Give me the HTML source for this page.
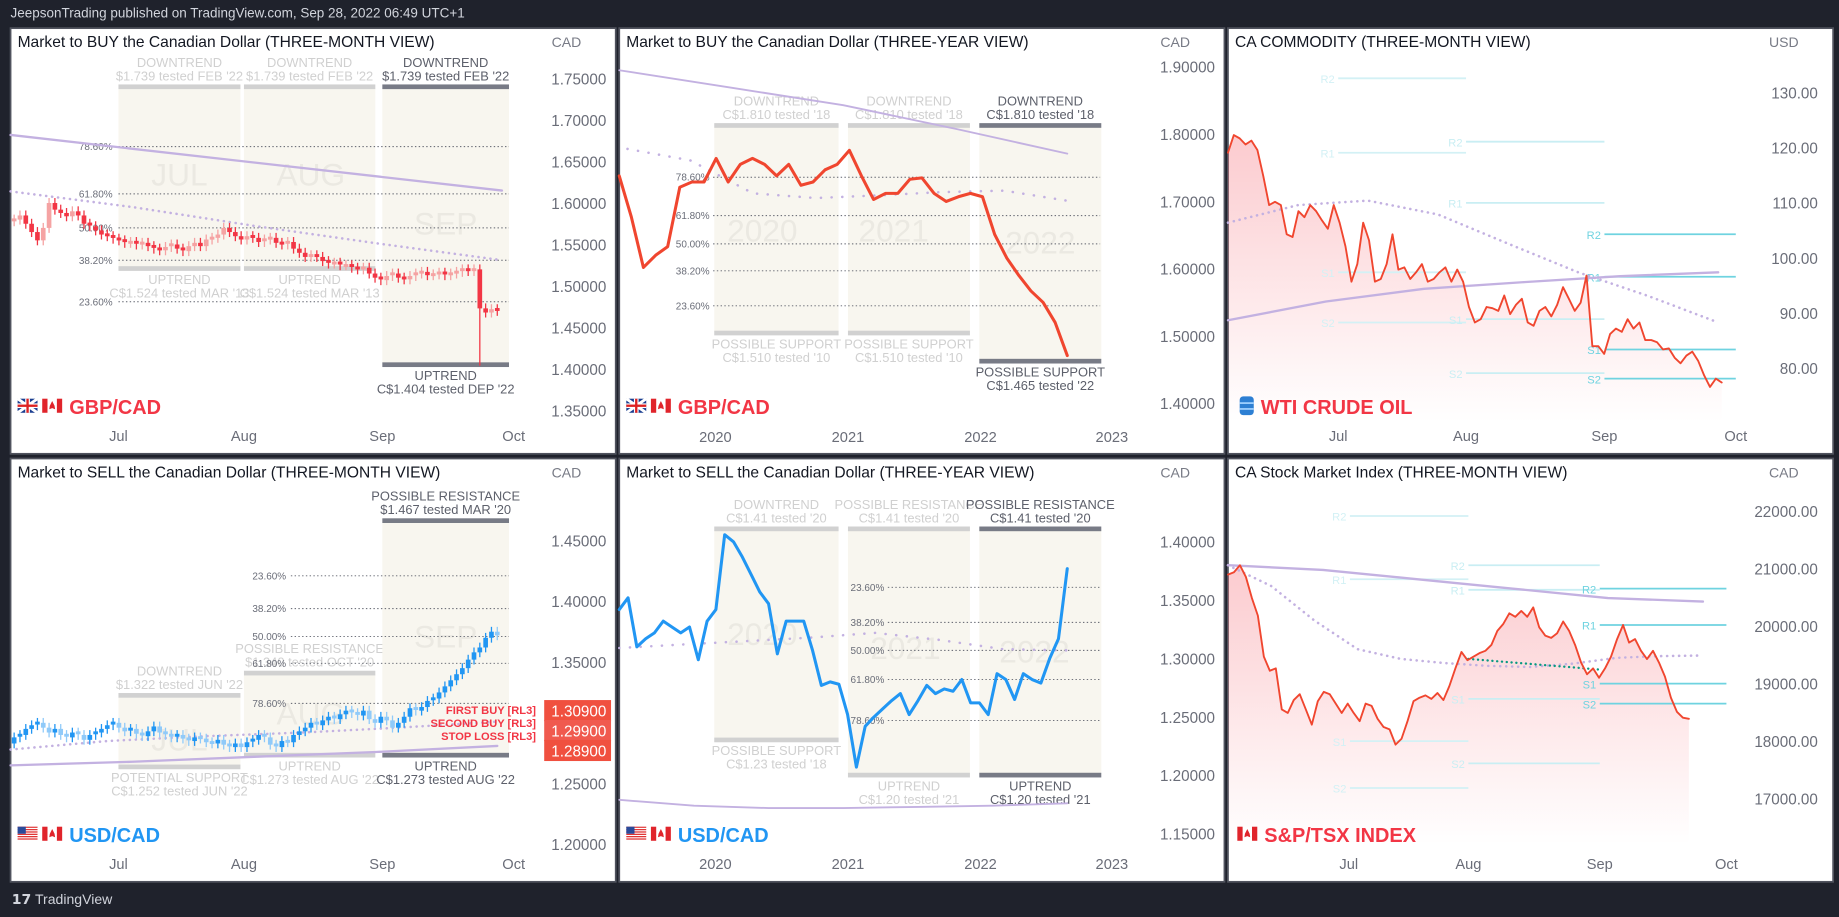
<!DOCTYPE html>
<html><head><meta charset="utf-8"><style>
html,body{margin:0;padding:0;background:#1f222c;width:1839px;height:917px;overflow:hidden}
svg{display:block}
text{font-family:"Liberation Sans",sans-serif}
</style></head><body>
<svg id="s" xmlns="http://www.w3.org/2000/svg" viewBox="0 0 1568 782" width="1839" height="917" preserveAspectRatio="none">
<defs>
<linearGradient id="g3" x1="0" y1="0" x2="0" y2="1"><stop offset="0" stop-color="#f23645" stop-opacity="0.26"/><stop offset="1" stop-color="#f23645" stop-opacity="0"/></linearGradient>
</defs>
<rect x="0" y="0" width="1568" height="782" fill="#1f222c"/>
<text x="9" y="15" font-size="11.5" fill="#d1d4dc">JeepsonTrading published on TradingView.com, Sep 28, 2022 06:49 UTC+1</text>
<text x="10" y="771" font-size="12" fill="#d1d4dc"><tspan font-weight="bold">𝟭𝟳</tspan> TradingView</text>
<g id="root"></g>
</svg>
<script>
// ---------- DATA ----------
const p1Closes=[1.578,1.580,1.585,1.575,1.565,1.555,1.570,1.600,1.592,1.588,1.584,1.590,1.585,1.575,1.572,1.567,1.562,1.560,1.557,1.555,1.552,1.553,1.550,1.552,1.548,1.545,1.543,1.547,1.550,1.545,1.542,1.548,1.552,1.548,1.556,1.558,1.562,1.570,1.565,1.560,1.556,1.560,1.558,1.553,1.556,1.558,1.552,1.550,1.553,1.545,1.540,1.535,1.537,1.535,1.530,1.527,1.528,1.525,1.525,1.522,1.520,1.522,1.515,1.510,1.507,1.512,1.515,1.510,1.508,1.512,1.515,1.517,1.513,1.514,1.516,1.513,1.515,1.517,1.520,1.518,1.520,1.473,1.468,1.472,1.470];
const p1SpikeLows={81:1.404};
const p1Ticks=["1.75000","1.70000","1.65000","1.60000","1.55000","1.50000","1.45000","1.40000","1.35000"];
const p1TickVals=[1.75,1.70,1.65,1.60,1.55,1.50,1.45,1.40,1.35];
const p1Fibs=[1.668,1.611,1.570,1.531,1.481];
const fibLabels=["78.60%","61.80%","50.00%","38.20%","23.60%"];
const p1MaSolid=[1.682,1.615];
const p1MaDot=[1.614,1.595,1.572,1.551,1.531];

const p2Values=[1.738,1.677,1.602,1.620,1.633,1.721,1.729,1.729,1.764,1.729,1.755,1.764,1.755,1.738,1.755,1.724,1.729,1.747,1.755,1.776,1.738,1.703,1.712,1.712,1.733,1.735,1.712,1.700,1.707,1.712,1.707,1.651,1.616,1.590,1.567,1.550,1.520,1.471];
const p2Ticks=["1.90000","1.80000","1.70000","1.60000","1.50000","1.40000"];
const p2TickVals=[1.9,1.8,1.7,1.6,1.5,1.4];
const p2Fibs=[1.736,1.679,1.637,1.597,1.545];
const p2MaSolid=[1.895,1.869,1.843,1.808,1.771];
const p2MaDot=[1.778,1.761,1.712,1.705,1.709,1.714,1.716,1.701];

const p3Values=[119.1,122.3,121.7,120.6,121.3,119.6,114.9,109.6,110.2,109.6,104.3,103.8,108.5,107.4,109.6,108.5,106.8,105.3,109.6,106.4,102.1,95.7,98.9,106.4,103.2,95.7,96.2,98.9,104.3,97.9,98.3,96.2,97.4,98.9,95.7,96.2,97.4,98.3,95.7,97.9,95.7,91.1,88.3,88.9,91.1,90.9,90.4,93.2,89.8,91.5,92.6,88.3,87.7,90.4,91.1,89.4,91.5,94.7,92.6,90.4,91.9,96.8,84.0,84.0,82.6,86.2,87.2,86.6,88.9,87.2,88.3,85.1,85.1,84.7,83.4,83.6,81.9,80.9,82.3,83.0,81.3,78.7,76.6,78.1,77.4];
const p3Ticks=["130.00","120.00","110.00","100.00","90.00","80.00"];
const p3TickVals=[130,120,110,100,90,80];
const pivotNames=["R2","R1","S1","S2"];
const p3PivJul=[132.6,119.1,97.4,88.3];
const p3PivAug=[121.1,110.0,88.9,79.1];
const p3PivSep=[104.3,96.6,83.4,78.1];
const p3MaSolid=[88.7,92.1,94.4,95.6,96.7,97.4];
const p3MaDot=[106.4,109.6,110.4,107.9,102.6,97.4,93.1,88.3];

const p4Closes=[1.283,1.288,1.290,1.295,1.298,1.300,1.296,1.292,1.295,1.290,1.288,1.292,1.290,1.286,1.290,1.292,1.295,1.298,1.300,1.296,1.293,1.295,1.291,1.289,1.293,1.297,1.292,1.290,1.288,1.290,1.287,1.285,1.288,1.287,1.284,1.283,1.286,1.282,1.280,1.283,1.280,1.284,1.286,1.290,1.288,1.282,1.280,1.285,1.284,1.290,1.293,1.296,1.300,1.298,1.302,1.305,1.303,1.307,1.310,1.308,1.306,1.310,1.303,1.300,1.305,1.302,1.296,1.300,1.305,1.312,1.310,1.313,1.318,1.320,1.325,1.330,1.335,1.340,1.345,1.352,1.358,1.362,1.370,1.375,1.372];
const p4Ticks=["1.45000","1.40000","1.35000","1.25000","1.20000"];
const p4TickVals=[1.45,1.40,1.35,1.25,1.20];
const p4Fibs=[1.316,1.349,1.371,1.394,1.421];
const p4FibLabels=["78.60%","61.80%","50.00%","38.20%","23.60%"];
const p4Orders=[1.309,1.299,1.289];
const p4OrderLabels=["FIRST BUY [RL3]","SECOND BUY [RL3]","STOP LOSS [RL3]"];
const p4MaSolid=[1.265,1.268,1.272,1.276,1.281];
const p4MaDot=[1.278,1.285,1.289,1.292,1.296,1.301];

const p5Values=[1.342,1.352,1.310,1.317,1.322,1.332,1.327,1.322,1.327,1.299,1.332,1.342,1.406,1.400,1.387,1.372,1.357,1.347,1.304,1.332,1.332,1.332,1.307,1.277,1.280,1.278,1.252,1.207,1.242,1.250,1.257,1.264,1.270,1.252,1.264,1.277,1.270,1.274,1.272,1.282,1.262,1.262,1.252,1.287,1.282,1.265,1.287,1.282,1.279,1.300,1.317,1.377];
const p5Ticks=["1.40000","1.35000","1.30000","1.25000","1.20000","1.15000"];
const p5TickVals=[1.40,1.35,1.30,1.25,1.20,1.15];
const p5Fibs=[1.361,1.331,1.307,1.282,1.247];
const p5FibLabels=["23.60%","38.20%","50.00%","61.80%","78.60%"];
const p5MaSolid=[1.179,1.174,1.172,1.172,1.173,1.174,1.176];
const p5MaDot=[1.309,1.312,1.315,1.318,1.322,1.316,1.308,1.307];

const p6Values=[20898,20939,21061,20857,20490,20184,19469,19224,19265,18551,18490,18714,18816,18551,18286,18694,18857,18816,18653,18490,18653,18490,18347,18653,18612,18388,18245,18204,17939,18041,18347,18694,18755,18796,18735,18837,18714,18959,19265,19551,19408,19469,19531,19571,19673,19918,20041,20224,20163,20265,20163,20327,19980,19837,19796,19878,20082,19918,19673,19367,19163,19265,19102,19265,19469,19776,20020,19714,19776,19571,19429,19571,19367,19122,18755,18510,18408,18388];
const p6Ticks=["22000.00","21000.00","20000.00","19000.00","18000.00","17000.00"];
const p6TickVals=[22000,21000,20000,19000,18000,17000];
const p6PivJul=[21918,20816,18000,17184];
const p6PivAug=[21061,20633,18735,17612];
const p6PivSep=[20653,20020,19000,18653];
const p6MaSolid=[21061,20980,20816,20653,20490,20429];
const p6MaDot=[21061,20700,20100,19600,19430,19360,19310,19290,19350,19450,19480,19490];
const p6Trend=[19430,19245];

const monthLabels=["Jul","Aug","Sep","Oct"];
const yearLabels=["2020","2021","2022","2023"];

// ---------- HELPERS ----------
const NS="http://www.w3.org/2000/svg";
const root=document.getElementById('root');
function mk(tag,attrs,parent,txt){const e=document.createElementNS(NS,tag);for(const k in attrs)e.setAttribute(k,attrs[k]);if(txt!==undefined)e.textContent=txt;(parent||root).appendChild(e);return e;}
function lin(v0,p0,v1,p1){return v=>p0+(v-v0)*(p1-p0)/(v1-v0);}
function pts(vals,x0,x1,y){const n=vals.length;return vals.map((v,i)=>[x0+i*(x1-x0)/(n-1),y(v)]);}
function poly(g,vals,x0,x1,y,stroke,w,dash,name){
  const d=pts(vals,x0,x1,y).map(p=>p[0].toFixed(1)+','+p[1].toFixed(1)).join(' ');
  const a={points:d,fill:'none',stroke:stroke,'stroke-width':w,'stroke-linejoin':'round','stroke-linecap':'round'};
  if(dash)a['stroke-dasharray']=dash;
  const e=mk('polyline',a,g);
  
  
  return e;
}
function frame(x,y,w,h,title,unit,name){
  const g=mk('g',{},root);
  
  
  const r=mk('rect',{x:x,y:y,width:w,height:h,fill:'#ffffff',stroke:'#50535e','stroke-width':1.5},g);
  
  
  const t=mk('text',{x:x+6,y:y+16,'font-size':13.3,fill:'#131722'},g,title);
  
  
  const u=mk('text',{x:x+w-42,y:y+16,'font-size':12,fill:'#787b86','text-anchor':'middle'},g,unit);
  
  
  return g;
}
function yTicks(g,labels,vals,y,xr){
  labels.forEach((l,i)=>{
    const t=mk('text',{x:xr,y:y(vals[i])+5,'font-size':13,fill:'#6a6d78','text-anchor':'end'},g,l);
    
    
  });
}
function xTicks(g,labels,xs,yy){
  labels.forEach((l,i)=>{
    const t=mk('text',{x:xs[i],y:yy,'font-size':12.5,fill:'#6a6d78','text-anchor':'middle'},g,l);
    
    
  });
}
function zone(g,x0,x1,yt,yb,dark,topLines,botLines,big,bigX,bigY){
  const c=dark?'#787b86':'#d1d1d1', tc=dark?'#5d606b':'#d0d0d0';
  const z=mk('rect',{x:x0,y:yt,width:x1-x0,height:yb-yt,fill:'#f8f6ef'},g);
  
  
  const b1=mk('rect',{x:x0,y:yt-3,width:x1-x0,height:4,fill:c},g);
  
  
  const b2=mk('rect',{x:x0,y:yb-1,width:x1-x0,height:4,fill:c},g);
  
  
  const cx=(x0+x1)/2;
  topLines.forEach((l,i)=>{const t=mk('text',{x:cx,y:yt-18+i*11.5,'font-size':11,fill:tc,'text-anchor':'middle'},g,l);
    
    });
  botLines.forEach((l,i)=>{const t=mk('text',{x:cx,y:yb+14+i*11.5,'font-size':11,fill:tc,'text-anchor':'middle'},g,l);
    
    });
  if(big){const t=mk('text',{x:bigX,y:bigY,'font-size':27,fill:'#ebe9e2','text-anchor':'middle'},g,big);
    
    }
}
function fibs(g,levels,labels,y,x0,x1,lx){
  levels.forEach((v,i)=>{
    const l=mk('line',{x1:x0,x2:x1,y1:y(v),y2:y(v),stroke:'#5d606b','stroke-width':0.8,'stroke-dasharray':'1.2,2'},g);
    
    
    const t=mk('text',{x:lx,y:y(v)+3,'font-size':8.5,fill:'#6a6d78','text-anchor':'end'},g,labels[i]);
    
    
  });
}
function pivots(g,levels,y,x0,x1,color){
  levels.forEach((v,i)=>{
    const l=mk('line',{x1:x0,x2:x1,y1:y(v),y2:y(v),stroke:color,'stroke-width':1.5},g);
    
    
    const t=mk('text',{x:x0-3,y:y(v)+4,'font-size':9.5,fill:color,'text-anchor':'end'},g,pivotNames[i]);
    
    
  });
}
function candles(g,closes,x0,x1,y,upC,dnC,spikes,wick){
  const n=closes.length, st=(x1-x0)/(n-1), bw=st*0.8;
  for(let i=1;i<n;i++){
    const o=closes[i-1], c=closes[i], up=c>=o;
    const hi=Math.max(o,c)+wick, lo=(spikes&&spikes[i]!==undefined)?spikes[i]:Math.min(o,c)-wick;
    const x=x0+i*st, col=up?upC:dnC;
    const w=mk('line',{x1:x,x2:x,y1:y(hi),y2:y(lo),stroke:col,'stroke-width':1.1},g);
    
    
    const top=y(Math.max(o,c)), h=Math.max(2.5,Math.abs(y(o)-y(c)));
    const b=mk('rect',{x:x-bw/2,y:top-(h>Math.abs(y(o)-y(c))?1:0),width:bw,height:h,fill:col},g);
    
    
  }
}
function area(g,vals,x0,x1,y,yb){
  const p=pts(vals,x0,x1,y);
  const d='M'+p.map(q=>q[0].toFixed(1)+','+q[1].toFixed(1)).join('L')+'L'+x1+','+yb+'L'+x0+','+yb+'Z';
  const e=mk('path',{d:d,fill:'url(#g3)'},g);
  
  
}
function ukFlag(g,x,y){
  mk('rect',{x:x,y:y,width:17,height:12,fill:'#1a3d8f'},g);
  mk('path',{d:`M${x},${y}L${x+17},${y+12}M${x+17},${y}L${x},${y+12}`,stroke:'#fff','stroke-width':2.5},g);
  mk('rect',{x:x+6.5,y:y,width:4,height:12,fill:'#fff'},g);mk('rect',{x:x,y:y+4,width:17,height:4,fill:'#fff'},g);
  mk('rect',{x:x+7.5,y:y,width:2,height:12,fill:'#d22'},g);mk('rect',{x:x,y:y+5,width:17,height:2,fill:'#d22'},g);
}
function usFlag(g,x,y){
  for(let i=0;i<6;i++)mk('rect',{x:x,y:y+i*2,width:17,height:1,fill:'#d22'},g);
  mk('rect',{x:x,y:y+1,width:17,height:1,fill:'#fff'},g);
  mk('rect',{x:x,y:y,width:7,height:6,fill:'#2a4a9a'},g);
}
function caFlag(g,x,y){
  mk('rect',{x:x,y:y,width:17,height:12,fill:'#fff'},g);
  mk('rect',{x:x,y:y,width:4.5,height:12,fill:'#e0242b'},g);mk('rect',{x:x+12.5,y:y,width:4.5,height:12,fill:'#e0242b'},g);
  mk('path',{d:`M${x+8.5},${y+2}L${x+10.5},${y+6}L${x+11},${y+9}L${x+8.5},${y+8}L${x+6},${y+9}L${x+6.5},${y+6}Z`,fill:'#e0242b'},g);
}
function symbol(g,x,y,txt,color,flags){
  const fg=mk('g',{},g);
  
  
  let fx=x;
  flags.forEach(f=>{if(f==='uk')ukFlag(fg,fx,y-12);else if(f==='us')usFlag(fg,fx,y-12);else if(f==='ca')caFlag(fg,fx,y-12);
    else{mk('rect',{x:fx+2,y:y-14,width:12,height:16,rx:3,fill:'#2d7fd3'},fg);mk('rect',{x:fx+2,y:y-9,width:12,height:1.5,fill:'#9fd0ff'},fg);mk('rect',{x:fx+2,y:y-4,width:12,height:1.5,fill:'#9fd0ff'},fg);}
    fx+=(f==='oil'?18:21);});
  const t=mk('text',{x:fx+2,y:y+1,'font-size':17,'font-weight':'bold',fill:color},g,txt);
  
  
}

// ---------- PANEL 1 ----------
(function(){
  const g=frame(9,24,516,363,'Market to BUY the Canadian Dollar (THREE-MONTH VIEW)','CAD','panel-gbpcad-3m');
  const y=lin(1.75,67,1.35,350);
  zone(g,101,205,75,228,false,['DOWNTREND',"$1.739 tested FEB '22"],['UPTREND',"C$1.524 tested MAR '13"],'JUL',153,158);
  zone(g,208,320,75,228,false,['DOWNTREND',"$1.739 tested FEB '22"],['UPTREND',"C$1.524 tested MAR '13"],'AUG',265,158);
  zone(g,326,434,75,310,true,['DOWNTREND',"$1.739 tested FEB '22"],['UPTREND',"C$1.404 tested DEP '22"],'SEP',380,200);
  fibs(g,p1Fibs,fibLabels,y,101,434,96);
  poly(g,p1MaSolid,9,428,y,'#c3b1e1',2,null,'moving-average-200');
  poly(g,p1MaDot,9,428,y,'#c3b1e1',2.2,'0.1,5','moving-average-50');
  candles(g,p1Closes,7.1,424,y,'#f5a3a3','#f23645',p1SpikeLows,0.006);
  yTicks(g,p1Ticks,p1TickVals,y,517);
  xTicks(g,monthLabels,[101,208,326,438],376);
  symbol(g,15,352,'GBP/CAD','#f23645',['uk','ca']);
})();
// ---------- PANEL 2 ----------
(function(){
  const g=frame(528,24,516,363,'Market to BUY the Canadian Dollar (THREE-YEAR VIEW)','CAD','panel-gbpcad-3y');
  const y=lin(1.9,57,1.4,344);
  zone(g,609,715,108,283,false,['DOWNTREND',"C$1.810 tested '18"],['POSSIBLE SUPPORT',"C$1.510 tested '10"],'2020',650,206);
  zone(g,723,827,108,283,false,['DOWNTREND',"C$1.810 tested '18"],['POSSIBLE SUPPORT',"C$1.510 tested '10"],'2021',762,206);
  zone(g,835,939,108,307,true,['DOWNTREND',"C$1.810 tested '18"],['POSSIBLE SUPPORT',"C$1.465 tested '22"],'2022',887,216);
  fibs(g,p2Fibs,fibLabels,y,608,938,605);
  poly(g,p2MaSolid,528,910,y,'#c3b1e1',1.6,null,'moving-average-200');
  poly(g,p2MaDot,535,910,y,'#c3b1e1',2.2,'0.1,9','moving-average-50');
  poly(g,p2Values,528,910,y,'#f0462f',2.6,null,'price-line');
  yTicks(g,p2Ticks,p2TickVals,y,1036);
  xTicks(g,yearLabels,[610,723,836,948],377);
  symbol(g,534,352,'GBP/CAD','#f23645',['uk','ca']);
})();
// ---------- PANEL 3 ----------
(function(){
  const g=frame(1047,24,516,363,'CA COMMODITY (THREE-MONTH VIEW)','USD','panel-wti');
  const y=lin(130,79,80,314);
  area(g,p3Values,1047,1468,y,360);
  pivots(g,p3PivJul,y,1141,1250,'#d3f1f5');
  pivots(g,p3PivAug,y,1250,1368,'#c9eef3');
  pivots(g,p3PivSep,y,1368,1480,'#6fd3e0');
  poly(g,p3MaSolid,1047,1465,y,'#c3b1e1',2,null,'moving-average-200');
  poly(g,p3MaDot,1047,1465,y,'#c3b1e1',2.2,'0.1,5','moving-average-50');
  poly(g,p3Values,1047,1468,y,'#f0462f',1.6,null,'price-line');
  yTicks(g,p3Ticks,p3TickVals,y,1550);
  xTicks(g,monthLabels,[1141,1250,1368,1480],376);
  symbol(g,1055,352,'WTI CRUDE OIL','#f23645',['oil']);
})();
// ---------- PANEL 4 ----------
(function(){
  const g=frame(9,391,516,361,'Market to SELL the Canadian Dollar (THREE-MONTH VIEW)','CAD','panel-usdcad-3m');
  const y=lin(1.45,461,1.20,720);
  zone(g,101,205,594,653,false,['DOWNTREND',"$1.322 tested JUN '22"],['POTENTIAL SUPPORT',"C$1.252 tested JUN '22"],'JUL',153,640);
  zone(g,208,320,575,643,false,['POSSIBLE RESISTANCE',"$1.340 tested OCT '20"],['UPTREND',"C$1.273 tested AUG '22"],'AUG',265,618);
  zone(g,326,434,445,643,true,['POSSIBLE RESISTANCE',"$1.467 tested MAR '20"],['UPTREND',"C$1.273 tested AUG '22"],'SEP',380,552);
  fibs(g,p4Fibs,p4FibLabels,y,248,434,244);
  poly(g,p4MaSolid,9,424,y,'#c3b1e1',2,null,'moving-average-200');
  poly(g,p4MaDot,9,424,y,'#c3b1e1',2.2,'0.1,5','moving-average-50');
  candles(g,p4Closes,7.1,424,y,'#2196f3','#90caf9',null,0.004);
  yTicks(g,p4Ticks,p4TickVals,y,517);
  p4Orders.forEach((v,i)=>{
    const r=mk('rect',{x:464,y:597+i*17,width:57,height:18,fill:i===1?'#f05a4f':'#f0503f'},g);
    
    
    const t=mk('text',{x:517,y:611+i*17,'font-size':13,fill:'#fff','text-anchor':'end'},g,v.toFixed(5));
    
    
    const l=mk('text',{x:457,y:609+i*11,'font-size':9.5,'font-weight':'bold',fill:'#f23645','text-anchor':'end'},g,p4OrderLabels[i]);
    
    
  });
  xTicks(g,monthLabels,[101,208,326,438],741);
  symbol(g,15,717,'USD/CAD','#2196f3',['us','ca']);
})();
// ---------- PANEL 5 ----------
(function(){
  const g=frame(528,391,516,361,'Market to SELL the Canadian Dollar (THREE-YEAR VIEW)','CAD','panel-usdcad-3y');
  const y=lin(1.40,462,1.15,711);
  zone(g,609,715,452,630,false,['DOWNTREND',"C$1.41 tested '20"],['POSSIBLE SUPPORT',"C$1.23 tested '18"],'2020',650,550);
  zone(g,723,827,452,660,false,['POSSIBLE RESISTANCE',"C$1.41 tested '20"],['UPTREND',"C$1.20 tested '21"],'2021',772,562);
  zone(g,835,939,452,660,true,['POSSIBLE RESISTANCE',"C$1.41 tested '20"],['UPTREND',"C$1.20 tested '21"],'2022',882,565);
  fibs(g,p5Fibs,p5FibLabels,y,757,938,754);
  poly(g,p5MaSolid,528,910,y,'#c3b1e1',1.6,null,'moving-average-200');
  poly(g,p5MaDot,528,910,y,'#c3b1e1',2.2,'0.1,9','moving-average-50');
  poly(g,p5Values,528,910,y,'#2196f3',2.6,null,'price-line');
  yTicks(g,p5Ticks,p5TickVals,y,1036);
  xTicks(g,yearLabels,[610,723,836,948],741);
  symbol(g,534,717,'USD/CAD','#2196f3',['us','ca']);
})();
// ---------- PANEL 6 ----------
(function(){
  const g=frame(1047,391,516,361,'CA Stock Market Index (THREE-MONTH VIEW)','CAD','panel-tsx');
  const y=lin(22000,436,17000,681);
  area(g,p6Values,1047,1440,y,720);
  pivots(g,p6PivJul,y,1151,1252,'#d3f1f5');
  pivots(g,p6PivAug,y,1252,1364,'#c9eef3');
  pivots(g,p6PivSep,y,1364,1472,'#6fd3e0');
  poly(g,p6MaSolid,1047,1452,y,'#c3b1e1',2,null,'moving-average-200');
  poly(g,p6MaDot,1047,1452,y,'#c3b1e1',2.2,'0.1,5','moving-average-50');
  poly(g,p6Trend,1252,1364,y,'#089981',2,'0.1,4','trend-dotted-line');
  poly(g,p6Values,1047,1440,y,'#f0462f',1.6,null,'price-line');
  yTicks(g,p6Ticks,p6TickVals,y,1550);
  xTicks(g,monthLabels,[1150,1252,1364,1472],741);
  symbol(g,1055,717,'S&P/TSX INDEX','#f23645',['ca']);
})();
</script>
</body></html>
